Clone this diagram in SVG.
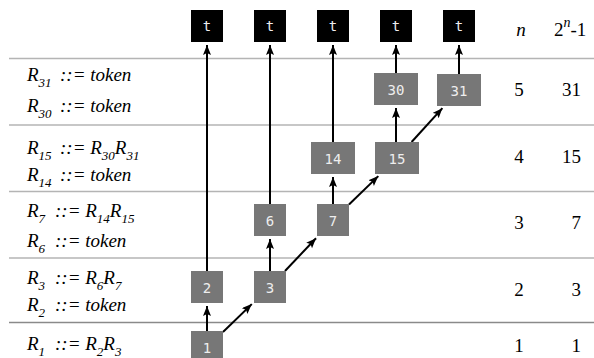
<svg xmlns="http://www.w3.org/2000/svg" width="594" height="358" viewBox="0 0 594 358">
  <style>
    .rule { stroke: #b4b4b4; stroke-width: 1.5; }
    .rule-dark { stroke: #8a8a8a; stroke-width: 1.5; }
    .gram { font-style: italic; font-size: 19px; fill: #000; }
    .sub { font-size: 13px; }
    .num { font-size: 19px; fill: #000; }
    .tok rect { fill: #000; }
    .rule-node rect { fill: #777; }
    .lbl { font-family: "DejaVu Sans Mono", "Liberation Mono", monospace; font-size: 14px; fill: #eee; text-anchor: middle; }
    .edge { stroke: #000; stroke-width: 2; fill: none; marker-end: url(#arrow); }
  </style>
  <defs>
    <marker id="arrow" markerUnits="userSpaceOnUse" markerWidth="12" markerHeight="10" refX="10" refY="4" orient="auto">
      <path d="M0,0 L10,4 L0,8 L2,4 z" fill="#000"/>
    </marker>
  </defs>

  <rect width="594" height="358" fill="#fff"/>

  <!-- table rules -->
  <g id="rules">
    <line class="rule" x1="9" y1="58.5" x2="594" y2="58.5"/>
    <line class="rule" x1="9" y1="125" x2="594" y2="125"/>
    <line class="rule" x1="9" y1="191.5" x2="594" y2="191.5"/>
    <line class="rule" x1="9" y1="258" x2="594" y2="258"/>
    <line class="rule-dark" x1="9" y1="322.5" x2="594" y2="322.5"/>
  </g>

  <!-- grammar productions -->
  <g id="grammar" class="gram" font-family="Liberation Serif, serif">
    <text y="81"><tspan x="27">R</tspan><tspan class="sub" dy="6">31</tspan><tspan x="60" dy="-6">::= token</tspan></text>
    <text y="112"><tspan x="27">R</tspan><tspan class="sub" dy="6">30</tspan><tspan x="60" dy="-6">::= token</tspan></text>
    <text y="154"><tspan x="27">R</tspan><tspan class="sub" dy="6">15</tspan><tspan x="60" dy="-6">::= R</tspan><tspan class="sub" dy="6">30</tspan><tspan dy="-6">R</tspan><tspan class="sub" dy="6">31</tspan></text>
    <text y="181"><tspan x="27">R</tspan><tspan class="sub" dy="6">14</tspan><tspan x="60" dy="-6">::= token</tspan></text>
    <text y="217"><tspan x="27">R</tspan><tspan class="sub" dy="6">7</tspan><tspan x="55" dy="-6">::= R</tspan><tspan class="sub" dy="6">14</tspan><tspan dy="-6">R</tspan><tspan class="sub" dy="6">15</tspan></text>
    <text y="247"><tspan x="27">R</tspan><tspan class="sub" dy="6">6</tspan><tspan x="55" dy="-6">::= token</tspan></text>
    <text y="284"><tspan x="27">R</tspan><tspan class="sub" dy="6">3</tspan><tspan x="55" dy="-6">::= R</tspan><tspan class="sub" dy="6">6</tspan><tspan dy="-6">R</tspan><tspan class="sub" dy="6">7</tspan></text>
    <text y="311"><tspan x="27">R</tspan><tspan class="sub" dy="6">2</tspan><tspan x="55" dy="-6">::= token</tspan></text>
    <text y="350"><tspan x="27">R</tspan><tspan class="sub" dy="6">1</tspan><tspan x="55" dy="-6">::= R</tspan><tspan class="sub" dy="6">2</tspan><tspan dy="-6">R</tspan><tspan class="sub" dy="6">3</tspan></text>
  </g>

  <!-- n and 2^n-1 columns -->
  <g id="counts" class="num" font-family="Liberation Serif, serif">
    <text x="521" y="36" text-anchor="middle" font-style="italic">n</text>
    <text x="554" y="36">2<tspan font-size="14" font-style="italic" dy="-9">n</tspan><tspan dy="9">-1</tspan></text>
    <g text-anchor="middle">
      <text x="519" y="96">5</text>
      <text x="519" y="163">4</text>
      <text x="519" y="229">3</text>
      <text x="519" y="296">2</text>
      <text x="519" y="352">1</text>
    </g>
    <g text-anchor="end">
      <text x="581" y="96">31</text>
      <text x="581" y="163">15</text>
      <text x="581" y="229">7</text>
      <text x="581" y="296">3</text>
      <text x="581" y="352">1</text>
    </g>
  </g>

  <!-- connectors -->
  <g id="edges">
    <line class="edge" x1="207" y1="271" x2="207" y2="45"/>
    <line class="edge" x1="270" y1="204" x2="270" y2="45"/>
    <line class="edge" x1="333" y1="142" x2="333" y2="45"/>
    <line class="edge" x1="396" y1="73" x2="396" y2="45"/>
    <line class="edge" x1="459" y1="74" x2="459" y2="45"/>
    <line class="edge" x1="207" y1="331" x2="207" y2="306"/>
    <line class="edge" x1="270" y1="271" x2="270" y2="239"/>
    <line class="edge" x1="333" y1="204" x2="333" y2="177"/>
    <line class="edge" x1="396" y1="142" x2="396" y2="108"/>
    <line class="edge" x1="223" y1="332" x2="251.8" y2="304.1"/>
    <line class="edge" x1="285" y1="271" x2="316" y2="238.2"/>
    <line class="edge" x1="349" y1="204.5" x2="378.3" y2="176.1"/>
    <line class="edge" x1="411.6" y1="142" x2="442.4" y2="108.2"/>
  </g>

  <!-- token leaves -->
  <g id="t1" class="tok"><rect x="191" y="10" width="32" height="32"/><text class="lbl" x="207" y="31">t</text></g>
  <g id="t2" class="tok"><rect x="254" y="10" width="32" height="32"/><text class="lbl" x="270" y="31">t</text></g>
  <g id="t3" class="tok"><rect x="317" y="10" width="32" height="32"/><text class="lbl" x="333" y="31">t</text></g>
  <g id="t4" class="tok"><rect x="380" y="10" width="32" height="32"/><text class="lbl" x="396" y="31">t</text></g>
  <g id="t5" class="tok"><rect x="443" y="10" width="32" height="32"/><text class="lbl" x="459" y="31">t</text></g>

  <!-- rule nodes -->
  <g id="n30" class="rule-node"><rect x="374" y="73" width="44" height="32"/><text class="lbl" x="396" y="95">30</text></g>
  <g id="n31" class="rule-node"><rect x="437" y="74" width="44" height="32"/><text class="lbl" x="459" y="96">31</text></g>
  <g id="n14" class="rule-node"><rect x="311" y="142" width="44" height="32"/><text class="lbl" x="333" y="164">14</text></g>
  <g id="n15" class="rule-node"><rect x="375" y="142" width="44" height="32"/><text class="lbl" x="397" y="164">15</text></g>
  <g id="n6" class="rule-node"><rect x="254" y="204" width="32" height="32"/><text class="lbl" x="270" y="226">6</text></g>
  <g id="n7" class="rule-node"><rect x="317" y="204" width="32" height="32"/><text class="lbl" x="333" y="226">7</text></g>
  <g id="n2" class="rule-node"><rect x="191" y="271" width="32" height="32"/><text class="lbl" x="207" y="293">2</text></g>
  <g id="n3" class="rule-node"><rect x="254" y="271" width="32" height="32"/><text class="lbl" x="270" y="293">3</text></g>
  <g id="n1" class="rule-node"><rect x="191" y="331" width="32" height="32"/><text class="lbl" x="207" y="353">1</text></g>
</svg>
